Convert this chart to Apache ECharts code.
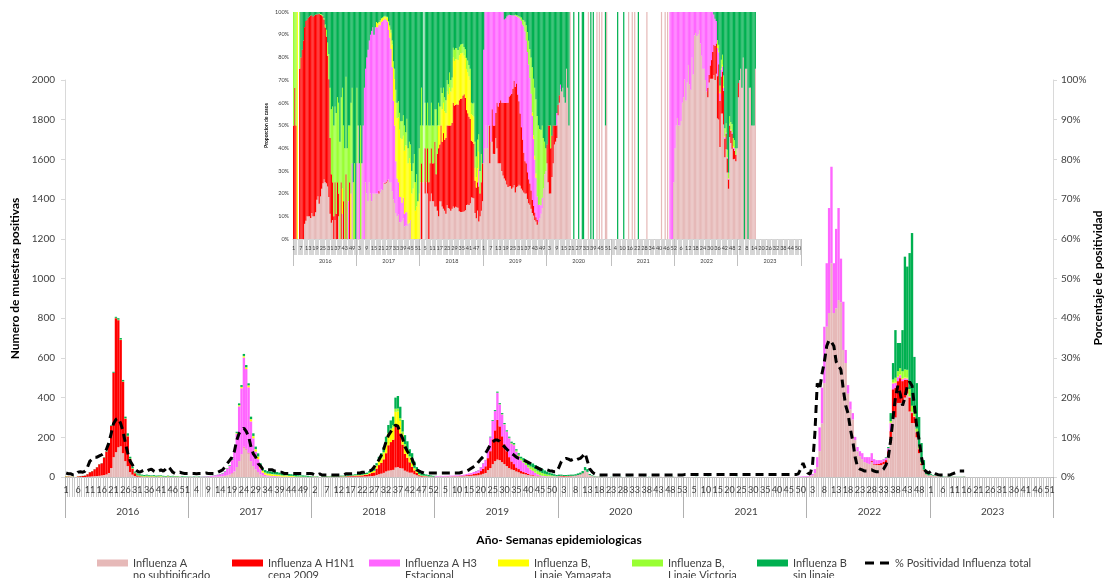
<!DOCTYPE html>
<html>
<head>
<meta charset="utf-8">
<script src="https://cdn.jsdelivr.net/npm/echarts@6/dist/echarts.min.js"></script>
<style>
  html, body { margin: 0; padding: 0; background: #fff; }
  #chart { width: 1106px; height: 578px; }
</style>
</head>
<body>
<div id="chart"></div>
<script>
// años y numero de semanas epidemiologicas de cada año
const years = ['2016', '2017', '2018', '2019', '2020', '2021', '2022', '2023'];
const weeksPerYear = [52, 52, 52, 52, 53, 52, 52, 52];

// leyenda: primera y segunda linea de cada serie
const legendLine1 = ['Influenza A', 'Influenza A H1N1', 'Influenza A H3', 'Influenza B,', 'Influenza B,', 'Influenza B', '% Positividad Influenza total'];
const legendLine2 = ['no subtipificado', 'cepa 2009', 'Estacional', 'Linaje Yamagata', 'Linaje Victoria', 'sin linaje', ''];
const seriesColors = ['#E6B9B8', '#FF0000', '#FF66FF', '#FFFF00', '#99FF33', '#00B050'];

// muestras positivas por semana, una fila por año (2016 ... 2023)
const fluANoSub = [
  [0,0,0,0,0,0,0,0,0,1, 2,3,4,5,6,8,10,13,20,45, 100,125,150,155,120,80,55,25,12,5, 2,1,1,0,1,0,0,1,0,0, 1,0,0,0,0,0,0,0,0,0, 0,0],
  [0,1,0,0,1,0,0,1,1,1, 2,2,2,3,4,6,9,12,18,28, 50,80,115,150,140,120,80,55,38,25, 12,7,4,3,3,2,2,2,2,1, 1,1,1,1,1,0,0,0,0,0, 0,0],
  [1,0,1,0,1,1,1,0,1,1, 1,1,1,1,1,1,2,2,2,2, 2,2,3,3,4,5,6,10,14,17, 21,28,32,34,36,48,50,45,43,32, 27,22,22,14,9,4,2,2,1,1, 1,1],
  [2,2,3,2,3,2,3,3,3,3, 4,4,4,5,6,6,7,8,9,12, 16,20,35,45,65,80,88,85,75,65, 55,45,38,35,28,24,18,15,13,10, 8,7,5,4,3,3,3,3,3,4, 4,3],
  [4,3,2,2,3,4,5,6,8,12, 18,33,26,10,5,3,3,2,1,1, 0,0,0,0,0,0,0,0,0,0, 0,0,0,0,1,0,0,0,0,0, 0,1,0,1,0,1,0,0,1,1, 0,0,0],
  [0,0,0,0,0,0,0,0,0,0, 0,0,0,0,1,0,0,1,0,1, 0,0,0,0,0,0,0,0,0,1, 0,0,0,0,0,0,0,0,0,0, 0,1,0,0,1,0,1,0,0,0, 0,1],
  [2,4,8,20,50,130,270,473,757,826, 1077,826,850,891,880,640,574,420,340,290, 186,130,105,90,75,70,65,75,62,60, 60,60,65,70,110,171,302,300,373,373, 373,400,420,330,272,272,200,120,60,30, 12,8],
  [10,7,6,4,4,0,3,3,0,2, 2,1,1,1,3,0,0,0,0,0, 0,0,0,0,0,0,0,0,0,0, 0,0,0,0,0,0,0,0,0,0, 0,0,0,0,0,0,0,0,0,0, 0,0]
];
const fluH1N1 = [
  [2,2,1,0,0,3,4,5,7,13, 22,26,35,44,58,61,88,115,148,212, 425,675,640,535,360,214,150,66,30,14, 6,3,2,1,2,1,2,1,0,2, 0,1,0,2,0,0,1,0,0,0, 0,0],
  [0,0,0,0,0,0,0,0,0,0, 0,0,0,0,0,0,0,0,1,0, 0,0,0,2,2,2,0,0,0,0, 0,0,0,0,0,0,0,0,0,0, 0,0,0,0,0,0,0,0,0,0, 0,0],
  [0,1,0,0,1,0,1,1,1,1, 1,1,2,1,2,3,3,4,4,5, 5,6,7,8,11,15,17,32,46,54, 68,92,128,142,152,205,210,175,120,85, 70,52,30,19,12,5,3,2,2,1, 1,1],
  [0,0,0,0,0,1,0,1,1,1, 1,2,3,4,5,6,8,10,12,18, 26,34,60,85,125,155,200,170,130,100, 75,55,40,30,20,16,12,10,8,6, 4,3,2,1,1,0,0,0,0,0, 0,0],
  [1,3,3,2,2,2,1,1,1,1, 1,0,0,0,0,0,0,0,0,0, 0,0,0,0,0,0,0,0,0,0, 0,0,0,0,0,0,0,0,0,0, 0,0,0,0,0,0,0,0,0,0, 0,0,0],
  [0,0,0,0,0,0,0,0,0,0, 0,0,0,0,0,0,0,0,0,0, 0,0,0,0,0,0,0,0,0,0, 0,0,0,0,0,0,0,0,0,0, 0,0,0,0,0,0,0,0,0,0, 0,0],
  [0,0,0,0,0,0,0,0,0,0, 0,0,0,0,0,0,0,0,0,0, 0,0,0,0,0,0,0,5,3,5, 7,10,12,15,20,60,140,150,110,125, 110,90,70,70,50,30,25,20,8,3, 1,0],
  [1,0,0,0,0,0,0,0,0,0, 0,0,0,0,0,0,0,0,0,0, 0,0,0,0,0,0,0,0,0,0, 0,0,0,0,0,0,0,0,0,0, 0,0,0,0,0,0,0,0,0,0, 0,0]
];
const fluH3 = [
  [0,0,0,0,0,0,0,0,0,0, 0,0,0,0,0,0,0,0,0,0, 0,0,0,0,0,0,0,0,0,0, 0,0,0,0,0,0,0,0,0,0, 0,0,0,0,0,1,0,0,1,0, 0,0],
  [1,0,1,0,0,1,2,2,3,4, 5,7,9,11,14,22,33,44,66,100, 168,276,332,450,402,330,200,140,90,65, 30,15,8,5,4,3,3,2,2,1, 1,1,0,0,0,0,0,0,0,0, 0,0],
  [0,0,0,0,0,0,0,0,0,0, 0,0,0,0,0,0,0,0,0,0, 0,0,0,0,0,0,0,0,0,0, 0,0,0,0,0,0,0,0,0,0, 0,0,0,0,0,0,0,0,1,0, 0,0],
  [3,3,3,3,3,3,4,3,4,4, 4,4,5,6,7,8,10,11,13,19, 27,31,53,70,93,97,135,110,110,100, 98,95,90,95,80,65,54,48,40,32, 26,20,14,9,5,3,2,1,1,0, 0,0],
  [0,0,0,0,0,0,0,0,1,0, 0,1,0,0,0,0,0,0,0,0, 0,0,0,0,0,0,0,0,0,0, 0,0,0,0,0,0,0,0,0,0, 0,0,0,0,0,0,0,0,0,0, 0,0,0],
  [0,0,0,0,0,0,0,0,0,0, 0,0,0,0,0,0,0,0,0,0, 0,0,0,0,0,0,0,0,0,0, 0,0,0,0,0,0,0,0,0,0, 0,0,0,0,0,0,0,0,1,2, 3,3],
  [3,4,7,20,50,120,180,284,320,529, 486,251,400,464,220,243,66,43,40,32, 16,21,25,30,25,30,35,40,25,20, 18,15,12,12,15,40,30,25,20,15, 10,8,6,5,4,3,2,2,1,1, 0,0],
  [0,0,0,0,0,0,0,0,0,0, 0,0,0,0,0,0,0,0,0,0, 0,0,0,0,0,0,0,0,0,0, 0,0,0,0,0,0,0,0,0,0, 0,0,0,0,0,0,0,0,0,0, 0,0]
];
const fluBYamagata = [
  [0,0,0,1,0,0,0,0,0,0, 0,0,0,0,0,0,0,0,0,0, 0,0,0,0,0,0,0,0,0,0, 0,0,0,0,0,0,0,0,0,0, 1,0,0,0,0,0,0,1,0,0, 0,0],
  [0,0,0,0,0,0,0,0,0,0, 0,0,0,0,0,0,1,1,1,2, 3,5,6,6,7,8,10,10,11,12, 10,9,9,8,8,8,7,7,6,5, 5,5,4,4,3,2,2,2,1,1, 1,1],
  [0,0,0,0,0,0,0,0,0,0, 0,0,0,0,0,1,1,1,2,2, 2,2,3,3,5,6,7,14,20,24, 30,40,52,57,61,75,70,62,52,38, 32,24,14,9,6,2,1,1,1,0, 0,0],
  [0,0,0,0,0,0,0,0,0,0, 0,0,0,0,0,0,0,0,0,0, 0,0,0,0,0,0,0,0,0,0, 0,0,0,0,0,0,0,0,0,0, 1,1,1,1,0,0,0,0,0,0, 0,0],
  [0,0,0,0,0,0,0,0,0,0, 0,0,0,0,0,0,0,0,0,0, 0,0,0,0,0,0,0,0,0,0, 0,0,0,0,0,0,0,0,0,0, 0,0,0,0,0,0,0,0,0,0, 0,0,0],
  [0,0,0,0,0,0,0,0,0,0, 0,0,0,0,0,0,0,0,0,0, 0,0,0,0,0,0,0,0,0,0, 0,0,0,0,0,0,0,0,0,0, 0,0,0,0,0,0,0,0,0,0, 0,0],
  [0,0,0,0,0,0,0,0,0,0, 0,0,0,0,0,0,0,0,0,0, 0,0,0,0,0,0,0,0,0,0, 0,0,0,0,0,3,4,5,5,5, 5,4,4,3,3,2,2,1,1,0, 0,0],
  [0,0,0,0,0,0,0,0,0,0, 0,0,0,0,0,0,0,0,0,0, 0,0,0,0,0,0,0,0,0,0, 0,0,0,0,0,0,0,0,0,0, 0,0,0,0,0,0,0,0,0,0, 0,0]
];
const fluBVictoria = [
  [2,1,1,0,0,1,0,0,0,0, 0,0,0,0,0,0,0,0,0,0, 0,2,3,3,2,2,3,3,3,3, 4,4,4,4,4,4,3,4,3,3, 4,2,2,3,2,2,1,2,1,1, 1,0],
  [1,0,0,1,0,0,0,0,0,0, 0,0,0,0,0,0,0,0,0,1, 1,1,1,2,2,2,2,2,2,2, 2,2,2,2,2,2,2,2,2,2, 1,2,1,1,1,1,1,1,1,1, 0,1],
  [1,1,1,0,1,1,1,1,1,1, 1,1,1,2,1,1,1,1,1,1, 1,1,1,1,2,2,2,3,5,6, 7,9,10,11,12,16,15,14,14,11, 9,7,6,4,3,4,2,2,1,1, 1,0],
  [0,0,0,0,0,0,0,0,0,0, 0,0,0,0,0,0,0,0,0,0, 0,0,0,0,0,0,2,2,2,2, 2,3,4,5,6,8,9,10,11,12, 14,17,18,17,17,14,11,9,7,4, 2,1],
  [0,0,0,1,0,0,0,0,0,0, 0,0,0,0,0,0,0,0,0,0, 0,0,0,0,0,0,0,0,0,0, 0,0,0,0,0,0,0,0,0,0, 0,0,0,0,0,0,0,0,0,0, 0,0,0],
  [0,0,0,0,0,0,0,0,0,0, 0,0,0,0,0,0,0,0,0,0, 0,0,0,0,0,0,0,0,0,0, 0,0,0,0,0,0,0,0,0,0, 0,0,0,0,0,0,0,0,0,0, 0,0],
  [0,0,0,0,0,0,0,0,0,0, 0,0,0,0,0,0,0,0,0,0, 0,0,0,0,0,0,0,0,0,0, 0,0,0,0,0,8,15,20,25,30, 35,40,40,35,30,20,15,10,6,3, 1,0],
  [0,0,0,0,0,0,0,0,0,0, 0,0,0,0,0,0,0,0,0,0, 0,0,0,0,0,0,0,0,0,0, 0,0,0,0,0,0,0,0,0,0, 0,0,0,0,0,0,0,0,0,0, 0,0]
];
const fluBSinLinaje = [
  [0,0,0,0,0,0,1,1,1,1, 1,1,1,1,1,1,2,2,2,3, 5,5,7,7,7,8,12,8,7,5, 6,6,5,5,5,4,3,4,4,3, 3,3,3,2,3,3,2,2,1,3, 2,2],
  [1,1,2,1,2,1,1,1,1,1, 1,1,1,1,2,2,2,3,4,5, 6,9,9,10,11,10,12,13,12,15, 15,11,12,12,11,12,13,12,10,9, 9,8,9,8,7,7,6,5,6,5, 5,3],
  [2,1,2,0,2,2,2,2,3,2, 3,3,3,3,4,4,5,4,5,5, 6,7,6,7,8,12,13,11,17,19, 24,34,40,41,43,56,63,58,58,45, 42,35,48,31,20,20,14,9,7,7, 5,4],
  [1,0,0,0,0,0,0,0,0,0, 0,0,0,0,0,0,0,1,1,1, 1,1,2,3,4,5,5,5,5,5, 5,5,6,6,6,7,9,12,14,15, 17,20,20,20,22,20,17,14,11,10, 8,6],
  [7,6,5,5,6,6,6,7,8,9, 11,16,14,5,3,2,1,1,1,0, 0,0,1,0,0,0,1,0,0,1, 1,0,0,0,0,0,1,0,1,0, 0,0,0,0,0,0,0,0,1,0, 0,0,0],
  [0,0,0,0,0,1,0,0,0,0, 1,0,0,0,0,0,0,0,0,0, 0,0,1,0,0,0,0,0,0,0, 0,0,0,0,0,0,0,0,0,0, 0,0,0,0,0,0,0,0,0,0, 0,0],
  [0,0,0,0,0,0,0,0,0,0, 0,0,0,0,0,0,0,0,0,0, 0,0,0,0,0,0,0,0,0,0, 0,0,1,3,6,40,83,240,142,127, 207,568,520,685,870,278,229,149,95,48, 21,12],
  [5,3,2,2,1,2,1,1,2,1, 1,1,1,1,1,0,0,0,0,0, 0,0,0,0,0,0,0,0,0,0, 0,0,0,0,0,0,0,0,0,0, 0,0,0,0,0,0,0,0,0,0, 0,0]
];
// % positividad influenza total por semana
const positividad = [
  [1,0.8,0.8,0.5,0.5,1.2,1.3,1.2,1.5,2.5, 4,4.5,5,5,5.3,5.6,6,7,8.6,11, 13.5,14.5,14.8,13.5,11.5,8.5,6,4,3,2, 1.5,1.2,1.5,1.8,1.5,1.8,2,1.5,1.2,1.5, 1.8,1.5,2,2.6,2,1.2,0.9,1,1.2,1, 0.9,0.9],
  [0.9,0.9,0.9,0.8,0.9,0.9,0.9,1,0.9,0.9, 0.9,0.9,1.2,1.5,1.8,2.5,3.4,4.2,5,6.5, 9.3,11,11.8,12.3,11.5,10.2,7.6,5.8,5,3.4, 2.8,2,1.8,1.8,1.8,1.8,1.5,1.5,1.2,1.2, 0.9,0.9,0.9,0.9,0.9,0.9,0.9,0.9,0.9,0.9, 0.9,0.9],
  [0.8,0.5,0.5,0.8,0.5,0.5,0.5,0.5,0.5,0.5, 0.5,0.5,0.5,0.5,0.8,0.8,0.8,0.8,1,1, 1,1.2,1.2,1.5,1.5,1.8,2.5,3.5,4.3,5.5, 7,8.9,10.5,11.4,12.5,13.1,12.8,11,9.7,7.6, 6.5,5.5,4.5,3,1.8,1.5,1.2,1,1,1, 1,1],
  [1,1,1,1,1,1,1,1,1,1, 1,1.2,1.3,1.5,1.8,2.2,2.6,3,3.8,4.5, 5.1,6,7,8.1,8.8,9.3,9.3,9,8.3,7.6, 7,6.4,6,5.5,5,4.7,4.5,4.3,4,3.7, 3.4,3,2.6,2.3,2,1.8,1.8,1.8,1.6,1.5, 1.3,1.3],
  [2.5,3.9,4.5,4.7,4.5,4.2,4.5,4.2,4.5,4.7, 5.3,6,4,2,1.3,0.8,0.5,0.5,0.5,0.5, 0.5,0.5,0.5,0.5,0.5,0.5,0.5,0.5,0.5,0.5, 0.5,0.5,0.5,0.5,0.5,0.5,0.5,0.5,0.5,0.5, 0.5,0.5,0.5,0.5,0.5,0.5,0.5,0.5,0.5,0.5, 0.5,0.5,0.5],
  [0.6,0.6,0.6,0.6,0.6,0.6,0.6,0.6,0.6,0.6, 0.6,0.6,0.6,0.6,0.6,0.6,0.6,0.6,0.6,0.6, 0.6,0.6,0.6,0.6,0.6,0.6,0.6,0.6,0.6,0.6, 0.6,0.6,0.6,0.6,0.6,0.6,0.6,0.6,0.6,0.6, 0.6,0.6,0.6,0.6,0.6,0.6,0.6,0.6,0.8,2, 3.5,2],
  [1,0.7,3,11,23.6,22,26,29,33,34.5, 34,33,29,28,27,22,18,16,12,9, 5,2.5,2,1.8,1.5,1.5,1.8,1.8,1.5,1.3, 1.3,1.5,2,3,5,9.3,15,20,23,21, 18,20,23,24,23,18,12.6,9.3,5,2, 1.3,1],
  [1.5,1.2,0.8,0.6,0.5,0.5,0.5,0.5,0.5,0.8, 1,1.2,1.5,1.5,1.5,null,null,null,null,null, null,null,null,null,null,null,null,null,null,null, null,null,null,null,null,null,null,null,null,null, null,null,null,null,null,null,null,null,null,null, null,null]
];

// etiquetas de semana y año para cada categoria del eje
const weekLabels = [];
const weekYear = [];
years.forEach((y, i) => {
  for (let w = 1; w <= weeksPerYear[i]; w++) {
    weekLabels.push(String(w));
    weekYear.push(y);
  }
});

// une las filas por año en una sola serie semanal
function byWeek(rows, pad) {
  return rows.flatMap((row, i) => {
    const n = weeksPerYear[i];
    if (row.length !== n) console.warn('fila', years[i], row.length, '!=', n);
    return row.concat(new Array(Math.max(0, n - row.length)).fill(pad)).slice(0, n);
  });
}

const seriesNames = legendLine1.map((l1, i) => (legendLine2[i] ? l1 + ' ' + legendLine2[i] : l1));
const countSeries = [fluANoSub, fluH1N1, fluH3, fluBYamagata, fluBVictoria, fluBSinLinaje].map(r => byWeek(r, 0));
const positivitySeries = byWeek(positividad, null);

// proporcion de casos (grafico pequeño, 100% apilado)
const weekTotals = weekLabels.map((_, i) => countSeries.reduce((s, arr) => s + arr[i], 0));
const shareSeries = countSeries.map(arr => arr.map((v, i) => (weekTotals[i] ? v / weekTotals[i] * 100 : 0)));

const FONT = 'Lato, "Liberation Sans", sans-serif';
const TXT = '#404040';
const yearStart = (i) => weekLabels[i] === '1';
const yearMid = (i) => weekLabels[i] === '27';
const legendX = [97, 232, 369, 498, 632, 757, 865];

const chart = echarts.init(document.getElementById('chart'), null, { renderer: 'canvas' });

const option = {
  animation: false,
  backgroundColor: '#fff',
  textStyle: { fontFamily: FONT },
  grid: [
    { left: 65, right: 53, top: 80, bottom: 101, outerBoundsMode: 'none', containLabel: false },
    { left: 293, top: 12, width: 508, height: 227, outerBoundsMode: 'none', containLabel: false }
  ],
  legend: seriesNames.map((name, i) => ({
    data: [i < 6 ? { name, icon: 'rect' } : { name, icon: 'path://M0,0H9V3H0Z M15,0H24V3H15Z' }],
    left: legendX[i],
    top: 556,
    padding: 0,
    itemWidth: i < 6 ? 31 : 26,
    itemHeight: i < 6 ? 7 : 3,
    selectedMode: false,
    formatter: () => legendLine1[i],
    textStyle: { fontFamily: FONT, fontSize: 11, color: TXT, lineHeight: 14 }
  })),
  graphic: [
    // segunda linea de las etiquetas de la leyenda
    ...legendLine2.map((txt, i) => ({
      type: 'text', left: legendX[i] + 36, top: 570, silent: true,
      style: { text: txt, font: '11px ' + FONT, fill: TXT }
    })),
    // titulo del eje derecho
    {
      type: 'text', x: 1098, y: 278, rotation: Math.PI / 2, silent: true,
      style: {
        text: 'Porcentaje de positividad', font: 'bold 12px ' + FONT, fill: '#000',
        align: 'center', verticalAlign: 'middle'
      }
    }
  ],
  xAxis: [
    {
      type: 'category', gridIndex: 0, data: weekLabels, boundaryGap: true,
      axisLine: { show: true, lineStyle: { color: '#bfbfbf' } },
      axisTick: { show: true, interval: 0, length: 20, lineStyle: { color: '#c8c8c8', width: 1 } },
      axisLabel: { show: true, interval: 4, fontSize: 9, color: TXT, margin: 9, fontFamily: FONT }
    },
    {
      type: 'category', gridIndex: 0, data: weekYear, position: 'bottom', boundaryGap: true,
      axisLine: { show: false },
      axisTick: { show: true, interval: yearStart, length: 41, lineStyle: { color: '#b0b0b0' } },
      axisLabel: { show: true, interval: yearMid, fontSize: 10, color: TXT, margin: 30, fontFamily: FONT },
      name: 'Año- Semanas epidemiologicas', nameLocation: 'middle', nameGap: 57,
      nameTextStyle: { fontSize: 12, fontWeight: 'bold', color: '#000', fontFamily: FONT }
    },
    {
      type: 'category', gridIndex: 1, data: weekLabels, boundaryGap: true,
      axisLine: { show: true, lineStyle: { color: '#d0d0d0' } },
      axisTick: { show: true, interval: 0, length: 16, lineStyle: { color: '#d6d6d6', width: 1 } },
      axisLabel: { show: true, interval: 5, fontSize: 5.5, color: TXT, margin: 6, fontFamily: FONT }
    },
    {
      type: 'category', gridIndex: 1, data: weekYear, position: 'bottom', boundaryGap: true,
      axisLine: { show: false },
      axisTick: { show: true, interval: yearStart, length: 27, lineStyle: { color: '#c0c0c0' } },
      axisLabel: { show: true, interval: yearMid, fontSize: 5.5, color: TXT, margin: 19, fontFamily: FONT }
    }
  ],
  yAxis: [
    {
      type: 'value', gridIndex: 0, min: 0, max: 2000, interval: 200,
      axisLine: { show: true, lineStyle: { color: '#d9d9d9' } },
      axisTick: { show: true, length: 4, lineStyle: { color: '#d9d9d9' } },
      splitLine: { show: false },
      axisLabel: { formatter: (v) => String(v), fontSize: 10, color: TXT, margin: 10, fontFamily: FONT },
      name: 'Numero de muestras positivas', nameLocation: 'middle', nameGap: 44, nameRotate: 90,
      nameTextStyle: { fontSize: 12, fontWeight: 'bold', color: '#000', fontFamily: FONT }
    },
    {
      type: 'value', gridIndex: 0, position: 'right', min: 0, max: 100, interval: 10,
      axisLine: { show: true, lineStyle: { color: '#d9d9d9' } },
      axisTick: { show: true, length: 4, lineStyle: { color: '#d9d9d9' } },
      splitLine: { show: false },
      axisLabel: { formatter: '{value}%', fontSize: 10, color: TXT, margin: 8, fontFamily: FONT }
    },
    {
      type: 'value', gridIndex: 1, min: 0, max: 100, interval: 10,
      axisLine: { show: false }, axisTick: { show: false }, splitLine: { show: false },
      axisLabel: { formatter: '{value}%', fontSize: 5.5, color: TXT, margin: 4, fontFamily: FONT },
      name: 'Proporcion de casos', nameLocation: 'middle', nameGap: 24, nameRotate: 90,
      nameTextStyle: { fontSize: 5, fontWeight: 'bold', color: '#000', fontFamily: FONT }
    }
  ],
  series: [
    // barras apiladas: muestras positivas
    ...countSeries.map((data, k) => ({
      name: seriesNames[k], type: 'bar', stack: 'muestras',
      xAxisIndex: 0, yAxisIndex: 0, data,
      barCategoryGap: '0%', silent: true,
      itemStyle: { color: seriesColors[k] }
    })),
    // linea de positividad
    {
      name: seriesNames[6], type: 'line', xAxisIndex: 0, yAxisIndex: 1,
      data: positivitySeries, showSymbol: false, symbol: 'none', silent: true,
      z: 5,
      lineStyle: { color: '#000', width: 3, type: [8, 5] },
      itemStyle: { color: '#000' }
    },
    // grafico pequeño: proporcion de casos
    ...shareSeries.map((data, k) => ({
      name: seriesNames[k], type: 'bar', stack: 'proporcion',
      xAxisIndex: 2, yAxisIndex: 2, data,
      barCategoryGap: '0%', silent: true,
      itemStyle: { color: seriesColors[k] }
    }))
  ]
};

chart.setOption(option);
</script>
</body>
</html>
